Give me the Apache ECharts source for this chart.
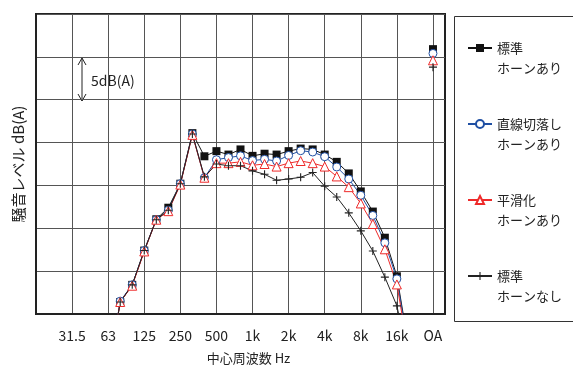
<!DOCTYPE html>
<html>
<head>
<meta charset="utf-8">
<script src="https://cdn.jsdelivr.net/npm/echarts@6/dist/echarts.min.js"></script>
<style>
  html, body { margin: 0; padding: 0; background: #fff; }
  #chart { width: 573px; height: 370px; }
</style>
</head>
<body>
<div id="chart"></div>
<script>
// 1/3オクターブ帯域 (16Hz〜25kHz) + OA, 最後は右余白用の空カテゴリ
const bands = [
  "16", "20", "25", "31.5", "40", "50", "63", "80", "100", "125", "160", "200",
  "250", "315", "400", "500", "630", "800", "1k", "1.25k", "1.6k", "2k", "2.5k", "3.15k",
  "4k", "5k", "6.3k", "8k", "10k", "12.5k", "16k", "20k", "25k", "OA", ""
];
const labeledBands = ["31.5", "63", "125", "250", "500", "1k", "2k", "4k", "8k", "16k", "OA"];

const seriesNames = ["標準\nホーンあり", "直線切落し\nホーンあり", "平滑化\nホーンあり", "標準\nホーンなし"];

// dB(A) 相対値 (目盛 5dB)
const standardHorn = [
  null, null, null, null, null, null, 33.0, 41.4, 43.4, 47.4, 51.05, 52.4,
  55.2, 61.1, 58.4, 59.0, 58.6, 59.2, 58.45, 58.7, 58.6, 59.0, 59.3, 59.2,
  58.6, 57.75, 56.4, 54.3, 51.95, 48.9, 44.4, 36.0, null, 70.9, null
];
const straightCutHorn = [
  null, null, null, null, null, null, 33.0, 41.5, 43.4, 47.4, 51.0, 52.1,
  55.2, 61.0, 55.9, 58.0, 58.25, 58.45, 57.9, 58.05, 57.85, 58.5, 59.05, 58.9,
  58.35, 57.15, 55.75, 53.85, 51.5, 48.3, 44.1, 35.6, null, 70.4, null
];
const smoothedHorn = [
  null, null, null, null, null, null, 33.0, 41.4, 43.3, 47.3, 51.0, 52.0,
  55.1, 60.9, 55.9, 57.6, 57.6, 57.75, 57.35, 57.5, 57.2, 57.6, 57.85, 57.6,
  57.2, 56.05, 54.8, 52.9, 50.5, 47.55, 43.45, 35.2, null, 69.6, null
];
const standardNoHorn = [
  null, null, null, null, null, null, 33.0, 41.4, 43.4, 47.4, 51.0, 52.1,
  55.2, 61.0, 56.0, 57.5, 57.3, 57.3, 56.7, 56.3, 55.6, 55.75, 55.95, 56.5,
  54.9, 53.65, 51.8, 49.7, 47.35, 44.3, 40.95, 34.5, null, 68.8, null
];

const FONT = "Noto Sans CJK JP";
const plusPath = "path://M0,3.45H8V4.55H0Z M3.45,0H4.55V8H3.45Z";

const chart = echarts.init(document.getElementById("chart"));

function isLabeled(index) {
  return labeledBands.indexOf(bands[index]) >= 0 && index > 0;
}

function makeSeries(name, data, symbol, size, lineColor, fill, border) {
  return {
    name: name,
    type: "line",
    data: data,
    symbol: symbol,
    symbolSize: size,
    showAllSymbol: true,
    connectNulls: false,
    clip: true,
    animation: false,
    lineStyle: { color: lineColor, width: 1 },
    itemStyle: { color: fill, borderColor: border, borderWidth: border ? 1 : 0 }
  };
}

chart.setOption({
  animation: false,
  textStyle: { fontFamily: FONT },
  grid: { left: 36, right: 128, top: 14, bottom: 51, show: true, borderColor: "#222", borderWidth: 2 },
  xAxis: {
    type: "category",
    data: bands,
    boundaryGap: false,
    name: "中心周波数 Hz",
    nameLocation: "middle",
    nameGap: 38,
    nameTextStyle: { fontSize: 13, color: "#222", fontFamily: FONT, padding: [0, 0, 0, 16] },
    axisLine: { lineStyle: { color: "#222", width: 2 } },
    axisTick: { show: false },
    axisLabel: { interval: (i) => isLabeled(i), margin: 15, fontSize: 14, color: "#222", fontFamily: FONT },
    splitLine: { show: true, interval: (i) => isLabeled(i), lineStyle: { color: "#555", width: 1 } }
  },
  yAxis: {
    type: "value",
    min: 40,
    max: 75,
    interval: 5,
    name: "騒音レベル dB(A)",
    nameLocation: "middle",
    nameGap: 10,
    nameTextStyle: { fontSize: 15, color: "#222", fontFamily: FONT },
    axisLine: { show: true, lineStyle: { color: "#222", width: 2 } },
    axisTick: { show: false },
    axisLabel: { show: false },
    splitLine: { show: true, lineStyle: { color: "#555", width: 1 } }
  },
  legend: {
    orient: "vertical",
    left: 467,
    top: 18,
    padding: 0,
    itemGap: 16,
    itemWidth: 24,
    itemHeight: 10,
    formatter: (name) => "\n" + name,
    textStyle: { fontSize: 13, lineHeight: 20, color: "#222", fontFamily: FONT },
    data: seriesNames
  },
  graphic: [
    { type: "rect", shape: { x: 454.5, y: 16.5, width: 130, height: 305 }, style: { fill: "none", stroke: "#333", lineWidth: 1 } },
    { type: "line", shape: { x1: 82, y1: 58, x2: 82, y2: 101 }, style: { stroke: "#222", lineWidth: 1 } },
    { type: "polyline", shape: { points: [[78, 65], [82, 58], [86, 65]] }, style: { stroke: "#222", lineWidth: 1, fill: "none" } },
    { type: "polyline", shape: { points: [[78, 94], [82, 101], [86, 94]] }, style: { stroke: "#222", lineWidth: 1, fill: "none" } },
    { type: "text", x: 91, y: 81, style: { text: "5dB(A)", fontSize: 14, fill: "#222", fontFamily: FONT, verticalAlign: "middle" } }
  ],
  series: [
    makeSeries(seriesNames[0], standardHorn, "rect", 8, "#111", "#111", null),
    makeSeries(seriesNames[1], straightCutHorn, "circle", 8, "#1f4fa3", "#fff", "#1f4fa3"),
    makeSeries(seriesNames[2], smoothedHorn, "triangle", 9, "#ee2a2a", "#fff", "#ee2a2a"),
    makeSeries(seriesNames[3], standardNoHorn, plusPath, 8, "#222", "#222", null)
  ]
});
</script>
</body>
</html>
